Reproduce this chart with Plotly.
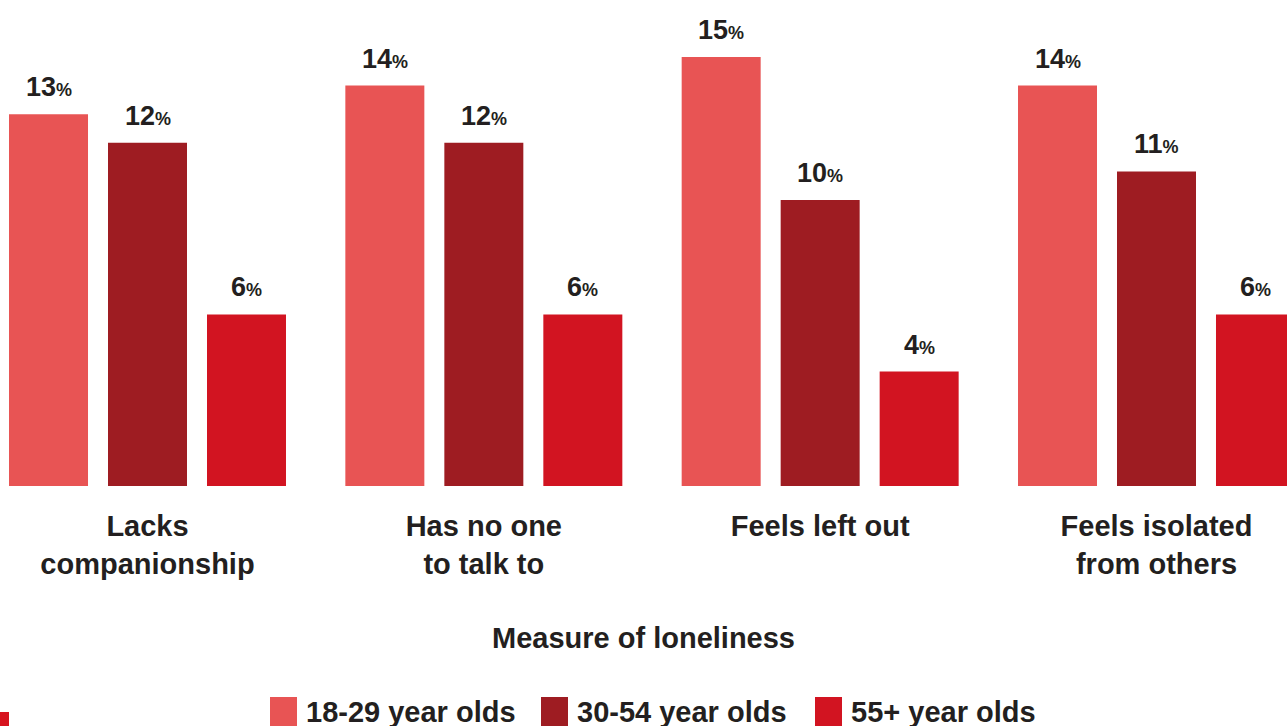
import plotly.graph_objects as go

categories = ["Lacks<br>companionship", "Has no one<br>to talk to", "Feels left out", "Feels isolated<br>from others"]
series_names = ["18-29 year olds", "30-54 year olds", "55+ year olds"]
values_18_29 = [13, 14, 15, 14]
values_30_54 = [12, 12, 10, 11]
values_55_plus = [6, 6, 4, 6]
colors = ["#E85454", "#9E1C22", "#D21421"]

series_values = [values_18_29, values_30_54, values_55_plus]
TEXT = "#231F20"
FONT = "Liberation Sans, Arial, Helvetica, sans-serif"
PLOT_H = 486.0

def py(ypix):
    return (PLOT_H - ypix) / PLOT_H

fig = go.Figure()
for name, vals, col in zip(series_names, series_values, colors):
    fig.add_trace(go.Bar(x=list(range(len(categories))), y=vals, name=name,
                         marker=dict(color=col, line=dict(width=0)), showlegend=False))

# data labels
offsets = [-99, 0, 99]
for vals, off in zip(series_values, offsets):
    for i, v in enumerate(vals):
        fig.add_annotation(x=i, y=v, xref="x", yref="y", xshift=off, yshift=10,
                           yanchor="bottom", showarrow=False,
                           text=f"<b>{v}</b><span style='font-size:18px'><b>%</b></span>",
                           font=dict(size=27, color=TEXT, family=FONT))

# manual legend
leg_x = [270, 541, 815]
for name, col, lx in zip(series_names, colors, leg_x):
    fig.add_shape(type="rect", xref="paper", yref="paper",
                  x0=lx / 1287, x1=(lx + 27) / 1287, y0=py(728), y1=py(697),
                  fillcolor=col, line=dict(width=0), layer="above")
    fig.add_annotation(xref="paper", yref="paper", x=(lx + 34) / 1287, y=py(712),
                       xanchor="left", yanchor="middle", showarrow=False,
                       text=f"<b>{name}</b>", font=dict(size=29, color=TEXT, family=FONT))

# small red mark at bottom-left
fig.add_shape(type="rect", xref="paper", yref="paper", x0=0, x1=9 / 1287,
              y0=py(728), y1=py(712), fillcolor="#D7141F", line=dict(width=0))

px_per_unit = 336.33
fig.update_layout(
    width=1287, height=726,
    margin=dict(l=0, r=0, t=0, b=240),
    paper_bgcolor="white", plot_bgcolor="white",
    barmode="group", bargap=0.117, bargroupgap=0.202,
    font=dict(family=FONT, color=TEXT),
    xaxis=dict(
        range=[-147.5 / px_per_unit, 3 + (1287 - 1156.5) / px_per_unit],
        tickmode="array", tickvals=list(range(len(categories))),
        ticktext=[f"<b>{c}</b>" for c in categories],
        tickfont=dict(size=29, color=TEXT, family=FONT),
        ticks="outside", ticklen=14, tickcolor="white",
        showgrid=False, zeroline=False, showline=False,
        title=dict(text="<b>Measure of loneliness</b>", standoff=49,
                   font=dict(size=29, color=TEXT, family=FONT)),
    ),
    yaxis=dict(range=[0, 486 / 28.6], visible=False, showgrid=False, zeroline=False),
)

fig.write_html("out.html")
